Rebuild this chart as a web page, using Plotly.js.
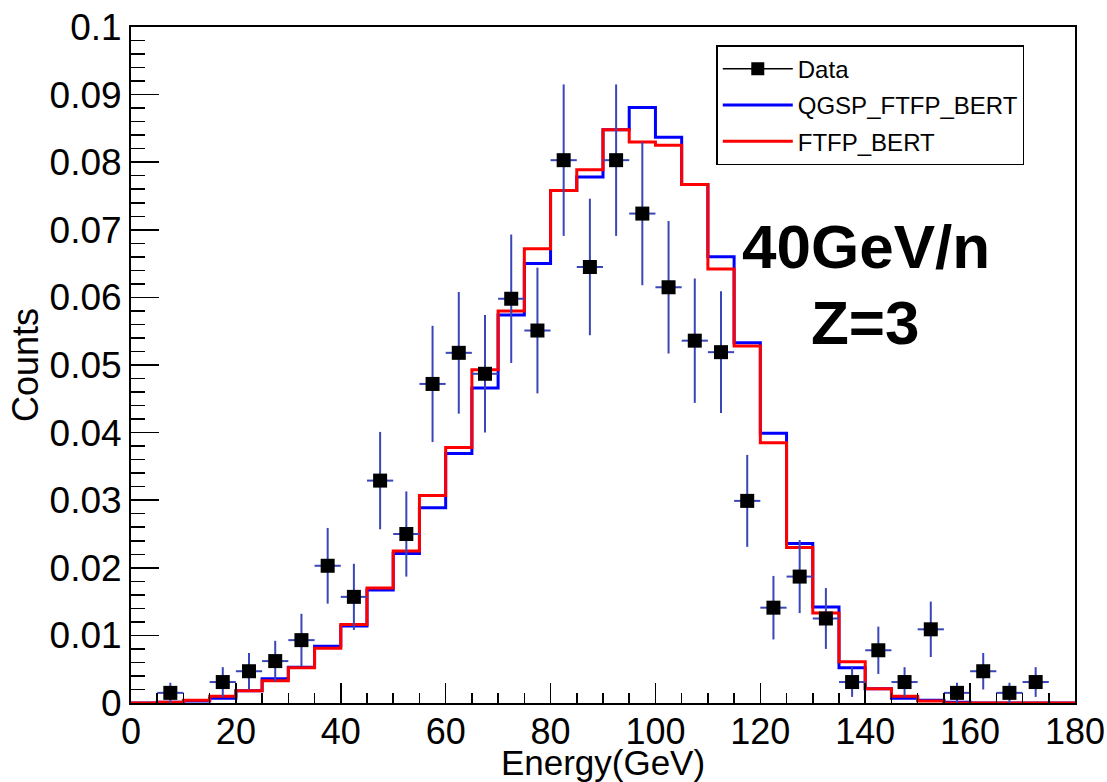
<!DOCTYPE html>
<html>
<head>
<meta charset="utf-8">
<script src="https://cdn.plot.ly/plotly-3.0.1.min.js"></script>
<style>
  html, body { margin: 0; padding: 0; background: #ffffff; }
  #chart { width: 1107px; height: 782px; }
</style>
</head>
<body>
<div id="chart"></div>
<script>
// ---- Histogram binning ----
const binLow = 0;
const binWidth = 5;

// ---- Simulation histograms (value per 5 GeV bin, 0-180 GeV) ----
const qgspFtfpBert = [
  0, 0.0001, 0.0003, 0.0007, 0.0018, 0.0036, 0.0053, 0.0084, 0.0114, 0.0167,
  0.0221, 0.0289, 0.0369, 0.0466, 0.0574, 0.0650, 0.0758, 0.0778, 0.0848, 0.0881,
  0.0837, 0.0767, 0.0660, 0.0533, 0.0399, 0.0236, 0.0142, 0.0052, 0.0021, 0.0007,
  0.0004, 0.0001, 0, 0, 0, 0
];
const ftfpBert = [
  0, 0.0001, 0.0004, 0.0010, 0.0018, 0.0033, 0.0052, 0.0081, 0.0116, 0.0170,
  0.0225, 0.0307, 0.0378, 0.0493, 0.0580, 0.0672, 0.0758, 0.0789, 0.0848, 0.0830,
  0.0825, 0.0767, 0.0642, 0.0528, 0.0385, 0.0230, 0.0133, 0.0061, 0.0021, 0.0010,
  0.0003, 0, 0, 0, 0, 0
];

// ---- Data points ----
const dataEnergy = [
  7.5, 17.5, 22.5, 27.5, 32.5, 37.5, 42.5, 47.5, 52.5, 57.5,
  62.5, 67.5, 72.5, 77.5, 82.5, 87.5, 92.5, 97.5, 102.5, 107.5,
  112.5, 117.5, 122.5, 127.5, 132.5, 137.5, 142.5, 147.5, 152.5, 157.5,
  162.5, 167.5, 172.5
];
const dataCounts = [
  0.0015, 0.0031, 0.0047, 0.0062, 0.0093, 0.0203, 0.0157, 0.0329, 0.0250, 0.0472,
  0.0518, 0.0487, 0.0598, 0.0551, 0.0803, 0.0645, 0.0803, 0.0724, 0.0615, 0.0536,
  0.0519, 0.0299, 0.0141, 0.0187, 0.0125, 0.0031, 0.0078, 0.0031, 0.0109, 0.0015,
  0.0047, 0.0015, 0.0031
];
const dataErrors = [
  0.0015, 0.0022, 0.0027, 0.0030, 0.0039, 0.0056, 0.0049, 0.0072, 0.0063, 0.0086,
  0.0090, 0.0087, 0.0095, 0.0093, 0.0112, 0.0101, 0.0112, 0.0106, 0.0098, 0.0092,
  0.0090, 0.0068, 0.0047, 0.0054, 0.0045, 0.0022, 0.0035, 0.0022, 0.0041, 0.0015,
  0.0027, 0.0015, 0.0022
];

// ---- Labels ----
const xTitle = 'Energy(GeV)';
const yTitle = 'Counts';
const nameData = 'Data';
const nameQgsp = 'QGSP_FTFP_BERT';
const nameFtfp = 'FTFP_BERT';
const beamText = '40GeV/n';
const chargeText = 'Z=3';

// step helper: bin edges with last value repeated so the final bin closes
function stepX(vals) {
  const xs = vals.map((_, i) => binLow + i * binWidth);
  xs.push(binLow + vals.length * binWidth);
  return xs;
}
function stepY(vals) {
  return vals.concat([vals[vals.length - 1]]);
}

const FONT = 'Liberation Sans, Arial, Helvetica, sans-serif';
const errColor = '#3a46b8';

const traces = [
  {
    x: stepX(qgspFtfpBert), y: stepY(qgspFtfpBert),
    type: 'scatter', mode: 'lines', name: nameQgsp,
    line: { shape: 'hv', color: '#0000ff', width: 3 },
    showlegend: false
  },
  {
    x: stepX(ftfpBert), y: stepY(ftfpBert),
    type: 'scatter', mode: 'lines', name: nameFtfp,
    line: { shape: 'hv', color: '#ff0000', width: 3 },
    showlegend: false
  },
  {
    x: dataEnergy, y: dataCounts,
    type: 'scatter', mode: 'markers', name: nameData,
    marker: { symbol: 'square', size: 14, color: '#000000' },
    error_y: { type: 'data', array: dataErrors, visible: true, color: errColor, thickness: 2, width: 0 },
    error_x: { type: 'constant', value: binWidth / 2, visible: true, color: errColor, thickness: 2, width: 0 },
    showlegend: false
  },
  // legend entries
  {
    x: [null], y: [null], type: 'scatter', mode: 'lines+markers', name: nameData,
    legendgroup: 'g1',
    line: { color: '#000000', width: 1.5 },
    marker: { symbol: 'square', size: 13, color: '#000000' }
  },
  {
    x: [null], y: [null], type: 'scatter', mode: 'lines', name: nameQgsp,
    legendgroup: 'g2',
    line: { color: '#0000ff', width: 3 }
  },
  {
    x: [null], y: [null], type: 'scatter', mode: 'lines', name: nameFtfp,
    legendgroup: 'g3',
    line: { color: '#ff0000', width: 3 }
  }
];

const layout = {
  width: 1107, height: 782,
  margin: { l: 131, r: 32, t: 27, b: 79 },
  paper_bgcolor: '#ffffff', plot_bgcolor: '#ffffff',
  font: { family: FONT, color: '#000000' },
  showlegend: true,
  legend: {
    x: 0.62, y: 0.973, xanchor: 'left', yanchor: 'top',
    bgcolor: '#ffffff', bordercolor: '#000000', borderwidth: 1.5,
    font: { family: FONT, size: 24, color: '#000000' },
    itemwidth: 70, traceorder: 'grouped', tracegroupgap: 2
  },
  xaxis: {
    range: [0, 180], dtick: 20, tick0: 0,
    ticks: 'inside', ticklen: 20, tickwidth: 1.5, tickcolor: '#000000',
    minor: { dtick: 5, ticks: 'inside', ticklen: 10, tickwidth: 1.5, tickcolor: '#000000', showgrid: false },
    showgrid: false, zeroline: false,
    showline: true, linecolor: '#000000', linewidth: 2, mirror: true,
    tickfont: { family: FONT, size: 36, color: '#000000' },
    ticklabelstandoff: -4,
    title: { text: xTitle, font: { family: FONT, size: 35, color: '#000000' }, standoff: 8 }
  },
  yaxis: {
    range: [0, 0.1], dtick: 0.01, tick0: 0,
    ticks: 'inside', ticklen: 28, tickwidth: 1.5, tickcolor: '#000000',
    minor: { dtick: 0.002, ticks: 'inside', ticklen: 14, tickwidth: 1.5, tickcolor: '#000000', showgrid: false },
    showgrid: false, zeroline: false,
    showline: true, linecolor: '#000000', linewidth: 2, mirror: true,
    tickfont: { family: FONT, size: 37, color: '#000000' },
    title: { text: yTitle, font: { family: FONT, size: 36, color: '#000000' }, standoff: 0 }
  },
  annotations: [
    { x: 140.2, y: 0.0675, xref: 'x', yref: 'y', text: beamText, showarrow: false,
      font: { family: FONT, size: 62, color: '#000000', weight: 'bold' } },
    { x: 140.0, y: 0.0563, xref: 'x', yref: 'y', text: chargeText, showarrow: false,
      font: { family: FONT, size: 62, color: '#000000', weight: 'bold' } }
  ]
};

Plotly.newPlot('chart', traces, layout, { displayModeBar: false, staticPlot: true });
</script>
</body>
</html>
